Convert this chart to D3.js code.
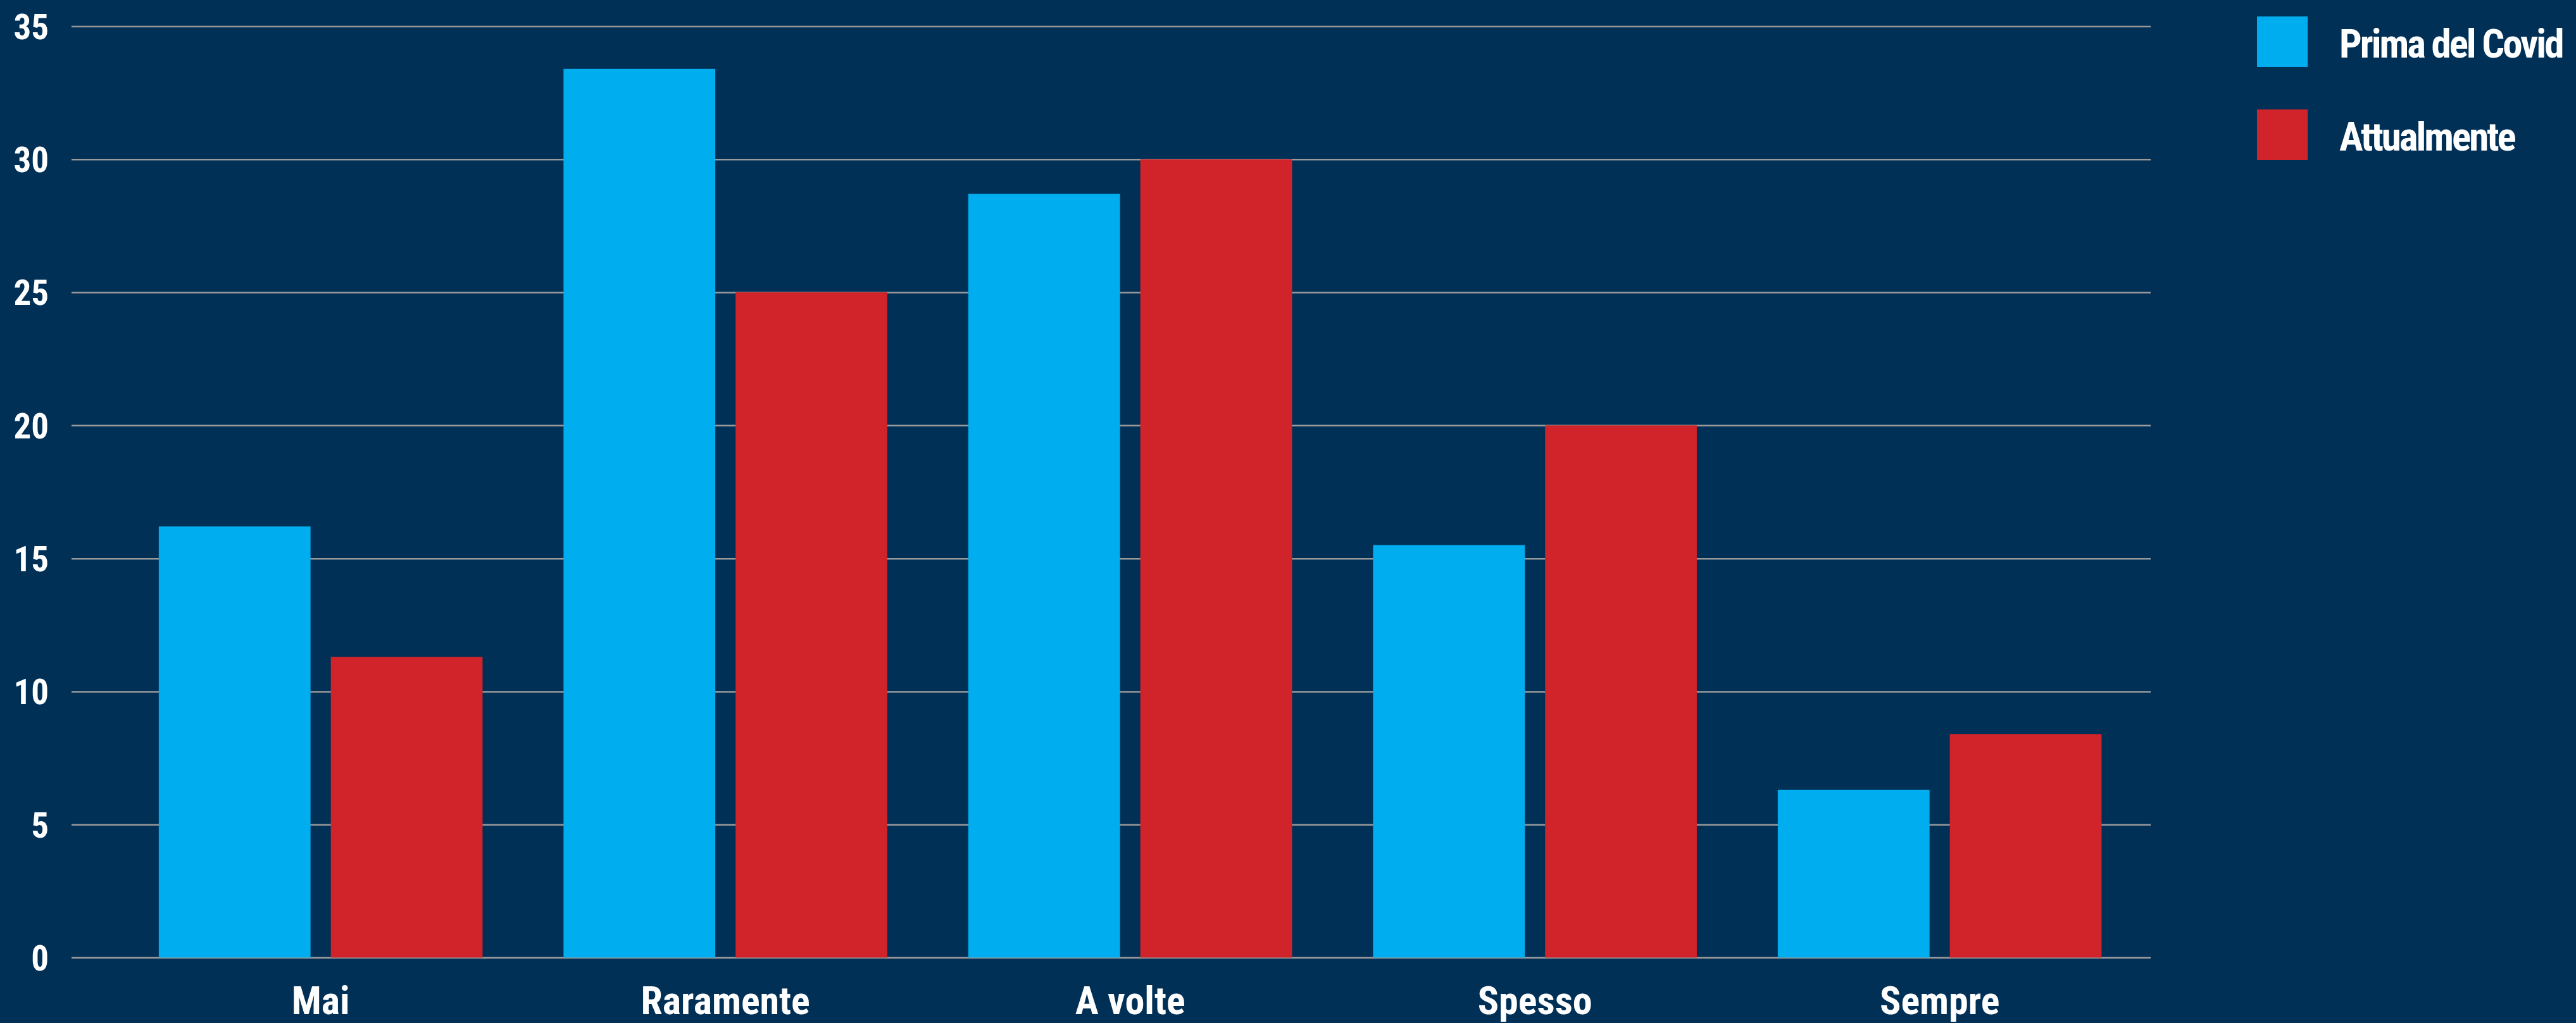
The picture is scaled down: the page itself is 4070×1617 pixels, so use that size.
<!DOCTYPE html>
<html lang="it">
<head>
  <meta charset="utf-8">
  <title>Prima del Covid / Attualmente</title>
  <script src="https://d3js.org/d3.v7.min.js"></script>
  <style>
  html, body { margin: 0; padding: 0; background: #013057; }
  text {
      font-family: "Liberation Sans Narrow", "Roboto Condensed", "Arial Narrow", sans-serif;
      font-weight: bold;
      fill: #ffffff;
  }
  </style>
</head>
<body>
  <script>
    // data
    var categories = ["Mai", "Raramente", "A volte", "Spesso", "Sempre"];
    var seriesNames = ["Prima del Covid", "Attualmente"];
    var primaDelCovid = [16.2, 33.4, 28.7, 15.5, 6.3];
    var attualmente = [11.3, 25.0, 30.0, 20.0, 8.4];
    var yTicks = [0, 5, 10, 15, 20, 25, 30, 35];

    var w = 4070;
    var h = 1617;
    var colors = ["#00aeef", "#d0232a"];

    var rows = categories.map(function(c, i) {
      return { cat: c, values: [primaDelCovid[i], attualmente[i]] };
    });

    var svg = d3.select("body")
      .append("svg")
      .attr("width", w)
      .attr("height", h);

    svg.append("rect")
      .attr("width", w)
      .attr("height", h)
      .attr("fill", "#013057");

    var gridLeft = 113, gridRight = 3398;

    var yScale = d3.scaleLinear()
      .domain([0, 35])
      .range([1513.5, 41.5]);

    // groups
    var x0 = d3.scaleBand()
      .domain(categories)
      .range([186.9, 3384.4])
      .paddingInner(0.2)
      .paddingOuter(0.1);

    var x1 = d3.scaleBand()
      .domain(seriesNames)
      .range([0, x0.bandwidth()])
      .paddingInner(0.118);

    // y axis with gridlines
    var yAxis = svg.append("g")
      .attr("transform", "translate(" + gridLeft + ",0)")
      .call(d3.axisLeft(yScale)
        .tickValues(yTicks)
        .tickSize(-(gridRight - gridLeft))
        .tickPadding(36));
    yAxis.select(".domain").remove();
    yAxis.selectAll(".tick line")
      .attr("stroke", "#9a9a9a")
      .attr("stroke-width", 2.5);
    yAxis.selectAll(".tick text")
      .attr("font-size", 55)
      .attr("fill", "#fff")
      .attr("dy", "0.36em");

    // bars
    var groups = svg.selectAll("g.group")
      .data(rows)
      .enter()
      .append("g")
      .attr("class", "group")
      .attr("transform", function(d) { return "translate(" + x0(d.cat) + ",0)"; });

    groups.selectAll("rect")
      .data(function(d) { return d.values.map(function(v, j) { return { s: seriesNames[j], v: v, j: j }; }); })
      .enter()
      .append("rect")
      .attr("x", function(d) { return x1(d.s); })
      .attr("y", function(d) { return yScale(d.v); })
      .attr("width", x1.bandwidth())
      .attr("height", function(d) { return yScale(0) - yScale(d.v); })
      .attr("fill", function(d) { return colors[d.j]; });

    // x axis labels
    var xAxis = svg.append("g")
      .attr("transform", "translate(0," + yScale(0) + ")")
      .call(d3.axisBottom(x0).tickSize(0).tickPadding(45));
    xAxis.select(".domain").remove();
    xAxis.selectAll(".tick text")
      .attr("font-size", 62)
      .attr("fill", "#fff")
      .attr("dy", "0.71em");

    // legend
    var legend = svg.selectAll("g.legend")
      .data(seriesNames)
      .enter()
      .append("g")
      .attr("class", "legend")
      .attr("transform", function(d, i) { return "translate(3566," + (26 + i * 147) + ")"; });

    legend.append("rect")
      .attr("width", 80)
      .attr("height", 80)
      .attr("fill", function(d, i) { return colors[i]; });

    legend.append("text")
      .attr("x", 130)
      .attr("y", 65)
      .attr("font-size", 63)
      .attr("letter-spacing", -3)
      .text(function(d) { return d; });
  </script>
</body>
</html>
